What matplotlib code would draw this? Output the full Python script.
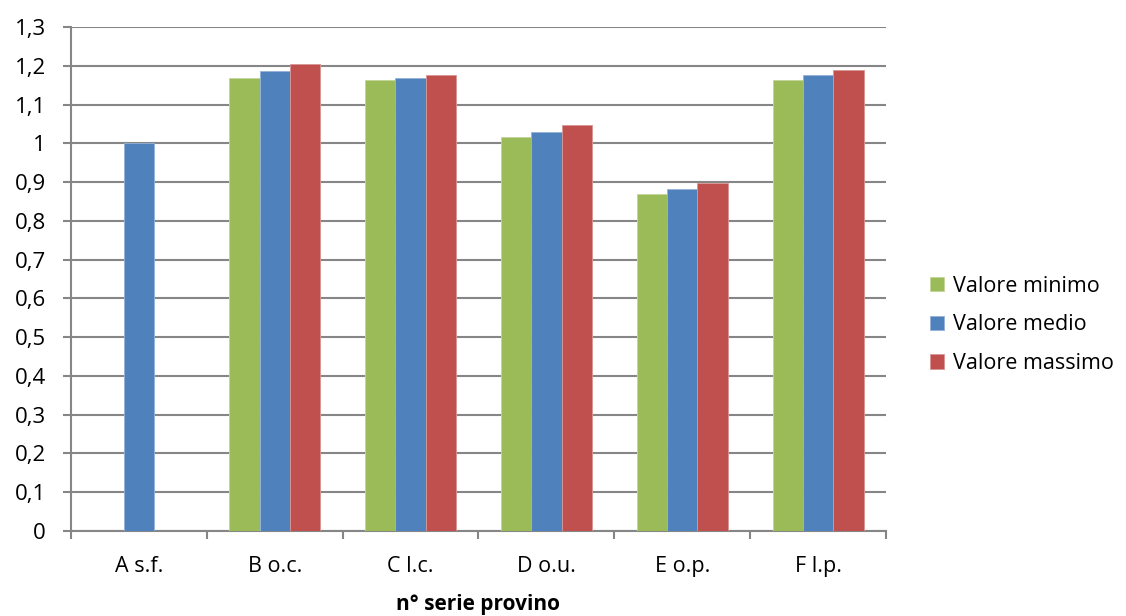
import matplotlib
matplotlib.use("Agg")
import matplotlib.pyplot as plt
import numpy as np

categories = ["A s.f.", "B o.c.", "C l.c.", "D o.u.", "E o.p.", "F l.p."]
valore_minimo = [np.nan, 1.169, 1.163, 1.015, 0.868, 1.163]
valore_medio = [1.000, 1.187, 1.169, 1.030, 0.882, 1.177]
valore_massimo = [np.nan, 1.205, 1.176, 1.046, 0.897, 1.189]
series_names = ["Valore minimo", "Valore medio", "Valore massimo"]
colors = ["#9BBB59", "#4F81BD", "#C0504D"]
edge_colors = ["#C3D69B", "#95B3D7", "#D99694"]
yticks = [round(0.1 * i, 1) for i in range(14)]

plt.rcParams['font.family'] = ['Open Sans', 'DejaVu Sans']

fig = plt.figure(figsize=(11.26, 6.16), dpi=100)
ax = fig.add_axes([71/1126, 85/616, (886-71)/1126, (531-27)/616])

x = np.arange(len(categories))
w = 0.2236
for i, (vals, name) in enumerate(zip([valore_minimo, valore_medio, valore_massimo], series_names)):
    ax.bar(x + (i - 1) * w, vals, width=w, color=colors[i], edgecolor=edge_colors[i],
           linewidth=0.6, label=name, zorder=3)

ax.set_xlim(-0.5, len(categories) - 0.5)
ax.set_ylim(0, 1.3)
ax.set_yticks(yticks)
ax.set_yticklabels([("%g" % v).replace(".", ",") for v in yticks], fontsize=16)
ax.yaxis.grid(True, color="#868686", linewidth=1.5, zorder=0)
ax.set_axisbelow(True)

ax.set_xticks(x)
ax.set_xticklabels(categories, fontsize=15.5)
ax.tick_params(axis="x", length=0, pad=18)
ax.set_xticks(np.arange(len(categories) + 1) - 0.5, minor=True)
ax.tick_params(axis="x", which="minor", length=6, width=1.5, color="#868686", direction="out")
ax.tick_params(axis="y", length=6, width=1.5, color="#868686", direction="out", pad=12)

for s in ["top", "right"]:
    ax.spines[s].set_visible(False)
for s in ["left", "bottom"]:
    ax.spines[s].set_color("#868686")
    ax.spines[s].set_linewidth(1.5)

ax.set_xlabel("n° serie provino", fontsize=15, fontweight="bold", labelpad=12)

fig.legend(*ax.get_legend_handles_labels(), loc="center left",
           bbox_to_anchor=(930/1126, (616-325)/616), frameon=False, fontsize=15.5,
           handlelength=0.645, handleheight=0.645, handletextpad=0.41, labelspacing=0.82,
           borderpad=0, borderaxespad=0)

fig.savefig("out.png", dpi=100)
